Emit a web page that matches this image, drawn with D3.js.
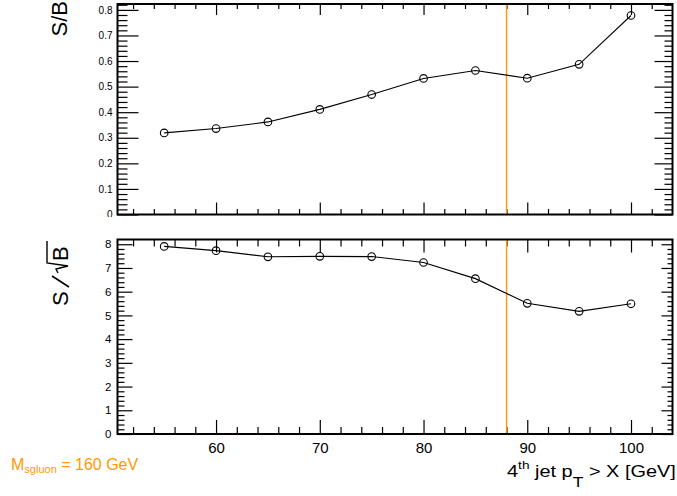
<!DOCTYPE html>
<html><head><meta charset="utf-8">
<script src="https://cdn.jsdelivr.net/npm/d3@7"></script>
<style>
html,body{margin:0;padding:0;background:#fff;}
svg{display:block;font-family:"Liberation Sans",Arial,Helvetica,sans-serif;}
</style></head>
<body><svg id="c" width="677" height="496"></svg>
<script>
// ---- data ----
const cutValues = [55, 60, 65, 70, 75, 80, 85, 90, 95, 100];
const sOverB = [0.319, 0.336, 0.362, 0.411, 0.469, 0.532, 0.563, 0.533, 0.587, 0.778];
const sOverSqrtB = [7.91, 7.73, 7.47, 7.49, 7.48, 7.23, 6.55, 5.51, 5.17, 5.49];
const xMajorTicks = [60, 70, 80, 90, 100];
const topYTicks = [0, 0.1, 0.2, 0.3, 0.4, 0.5, 0.6, 0.7, 0.8];
const botYTicks = [0, 1, 2, 3, 4, 5, 6, 7, 8];
const chosenCut = 88;
const massLabel = {main: "M", sub: "sgluon", rest: " = 160 GeV"};

const svg = d3.select("#c");
const L = 117.5, R = 672.5;
const x = d3.scaleLinear([50.5, 104], [L, R]);
const yTop = d3.scaleLinear([0, 0.823], [214.5, 4]);
const yBot = d3.scaleLinear([0, 8.2], [434, 239.5]);
const orange = "#ff9900";

svg.append("defs").append("clipPath").attr("id", "topPad")
  .append("rect").attr("x", 0).attr("y", 0).attr("width", 677).attr("height", 217);

function range(a, b, s) { const o = []; for (let v = a; v <= b + 1e-9; v += s) o.push(+v.toFixed(4)); return o; }
const xMinor = range(52, 103, 2).filter(v => xMajorTicks.indexOf(v) < 0);
const topMinor = range(0.02, 0.82, 0.02).filter(v => Math.abs(v * 10 - Math.round(v * 10)) > 1e-6);
const botMinor = range(0.2, 8.0, 0.2).filter(v => Math.abs(v - Math.round(v)) > 1e-6);

function panel(y, yMajor, yMinorV, fmt, opt) {
  const g = svg.append("g");
  if (opt.clip) g.attr("clip-path", "url(#topPad)");
  const top = y.range()[1], bot = y.range()[0];
  const la = g.append("g").attr("transform", `translate(${L},0)`)
    .call(d3.axisLeft(y).tickValues(yMajor).tickSizeInner(-opt.lMaj).tickSizeOuter(0).tickPadding(opt.lPad).tickFormat(fmt));
  la.select(".domain").remove();
  la.selectAll("text").attr("font-size", opt.lFont).attr("fill", "#000").attr("font-family", "Liberation Sans,Arial,sans-serif");
  const lm = g.append("g").attr("transform", `translate(${L},0)`)
    .call(d3.axisLeft(y).tickValues(yMinorV).tickSizeInner(-opt.lMin).tickSizeOuter(0).tickFormat(""));
  lm.select(".domain").remove();
  const ra = g.append("g").attr("transform", `translate(${R},0)`)
    .call(d3.axisRight(y).tickValues(yMajor).tickSizeInner(-opt.rMaj).tickSizeOuter(0).tickFormat(""));
  ra.select(".domain").remove();
  const rm = g.append("g").attr("transform", `translate(${R},0)`)
    .call(d3.axisRight(y).tickValues(yMinorV).tickSizeInner(-opt.rMin).tickSizeOuter(0).tickFormat(""));
  rm.select(".domain").remove();
  const ba = g.append("g").attr("transform", `translate(0,${bot})`)
    .call(d3.axisBottom(x).tickValues(xMajorTicks).tickSizeInner(-opt.bMaj).tickSizeOuter(0).tickPadding(8.5)
      .tickFormat(opt.xLabels ? d3.format("d") : ""));
  ba.select(".domain").remove();
  ba.selectAll("text").attr("font-size", 15).attr("fill", "#000").attr("font-family", "Liberation Sans,Arial,sans-serif");
  const bm = g.append("g").attr("transform", `translate(0,${bot})`)
    .call(d3.axisBottom(x).tickValues(xMinor).tickSizeInner(-opt.bMin).tickSizeOuter(0).tickFormat(""));
  bm.select(".domain").remove();
  const ta = g.append("g").attr("transform", `translate(0,${top})`)
    .call(d3.axisTop(x).tickValues(xMajorTicks).tickSizeInner(-opt.tMaj).tickSizeOuter(0).tickFormat(""));
  ta.select(".domain").remove();
  const tm = g.append("g").attr("transform", `translate(0,${top})`)
    .call(d3.axisTop(x).tickValues(xMinor).tickSizeInner(-opt.tMin).tickSizeOuter(0).tickFormat(""));
  tm.select(".domain").remove();
  g.selectAll(".tick line").attr("stroke", "#000").attr("stroke-width", 1.2);
  g.append("rect").attr("x", L).attr("y", top).attr("width", R - L).attr("height", bot - top)
    .attr("fill", "none").attr("stroke", "#000").attr("stroke-width", 2);
  g.append("line").attr("x1", x(chosenCut)).attr("x2", x(chosenCut)).attr("y1", top + 1).attr("y2", bot - 1)
    .attr("stroke", orange).attr("stroke-width", 1.4);
  return g;
}

function series(g, y, vals) {
  const pts = cutValues.map((c, i) => [x(c), y(vals[i])]);
  g.append("path").attr("d", d3.line()(pts)).attr("fill", "none").attr("stroke", "#000").attr("stroke-width", 1.1);
  g.selectAll("circle.m").data(pts).join("circle").attr("class", "m")
    .attr("cx", d => d[0]).attr("cy", d => d[1]).attr("r", 3.8)
    .attr("fill", "none").attr("stroke", "#000").attr("stroke-width", 1.1);
}

const gTop = panel(yTop, topYTicks, topMinor, d => d === 0 ? "0" : d3.format(".1f")(d),
  {lMaj: 21, lMin: 10, lPad: 5, lFont: 10, rMaj: 18, rMin: 8, bMaj: 12, bMin: 5.5, tMaj: 11, tMin: 5, xLabels: false, clip: true});
series(gTop, yTop, sOverB);

const gBot = panel(yBot, botYTicks, botMinor, d3.format("d"),
  {lMaj: 15, lMin: 7, lPad: 6, lFont: 11.5, rMaj: 11, rMin: 5, bMaj: 14, bMin: 7, tMaj: 13, tMin: 7, xLabels: true, clip: false});
series(gBot, yBot, sOverSqrtB);

// Y titles
svg.append("text").attr("transform", "translate(67,1) rotate(-90)").attr("text-anchor", "end")
  .attr("font-size", 22).attr("fill", "#000").text("S/B");

const yt = svg.append("g").attr("transform", "translate(68,306) rotate(-90)");
yt.append("text").attr("x", 0).attr("y", 0).attr("font-size", 22).attr("fill", "#000").text("S");
yt.append("path").attr("d", "M19,1 L30,-16").attr("stroke", "#000").attr("stroke-width", 1.6).attr("fill", "none");
yt.append("path").attr("d", "M33,-10 L37,-12 L40,0 L43,-21 L65,-21").attr("stroke", "#000").attr("stroke-width", 1.4).attr("fill", "none");
yt.append("text").attr("x", 45).attr("y", 0).attr("font-size", 22).attr("fill", "#000").text("B");

// X title
const xtG = svg.append("g");
const xt = xtG.append("text").attr("font-size", 16).attr("fill", "#000");
xt.append("tspan").text("4");
xt.append("tspan").attr("font-size", 11).attr("dy", -8).text("th");
xt.append("tspan").attr("dy", 8).text(" jet p");
xt.append("tspan").attr("font-size", 14).attr("dy", 10).text("T");
xt.append("tspan").attr("dy", -10).text(" > X [GeV]");
const w = xt.node().getComputedTextLength();
const targetW = 169;
xtG.attr("transform", `translate(${676 - targetW},477) scale(${targetW / w},1)`);

// mass label
const ml = svg.append("text").attr("x", 11).attr("y", 470).attr("font-size", 16).attr("fill", orange);
ml.append("tspan").text(massLabel.main);
ml.append("tspan").attr("font-size", 11).attr("dy", 3).text(massLabel.sub);
ml.append("tspan").attr("dy", -3).text(massLabel.rest);
</script>
</body></html>
